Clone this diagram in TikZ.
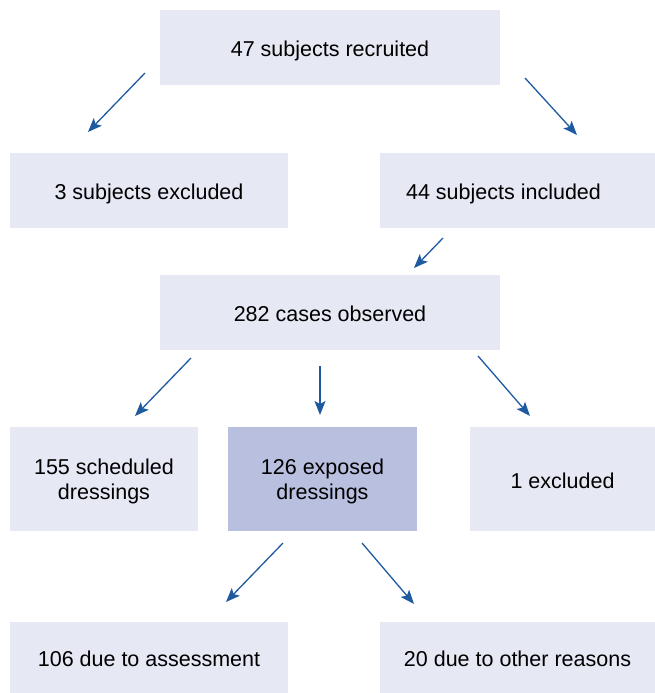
\documentclass[tikz,border=0pt]{standalone}
\usepackage{fontspec}
\setmainfont{Liberation Sans}
\usetikzlibrary{arrows.meta}
\definecolor{boxlight}{HTML}{E6E8F4}
\definecolor{boxdark}{HTML}{B8BFDF}
\definecolor{arrowblue}{HTML}{1F5AA0}
\begin{document}
\begin{tikzpicture}[x=1pt,y=-1pt,
  box/.style={fill=boxlight,draw=none,inner sep=0pt,align=center,text depth=0pt,font=\fontsize{21.5}{25}\selectfont},
  oneline/.style={text height=18pt},
  darkbox/.style={box,fill=boxdark},
  flow/.style={draw=arrowblue,line width=1.3pt,-{Stealth[length=14pt,width=11pt,inset=3pt]}}]
\useasboundingbox (0,0) rectangle (655,693);
\node[box,oneline,minimum width=340pt,minimum height=75pt] (rec) at (330,47.5) {47 subjects recruited};
\node[box,oneline,minimum width=278pt,minimum height=75pt] (exc) at (149,190.5) {3 subjects excluded};
\node[box,oneline,minimum width=275pt,minimum height=75pt] (inc) at (517.5,190.5) {44 subjects included\hspace{28pt}};
\node[box,oneline,minimum width=340pt,minimum height=75pt] (obs) at (330,312.5) {282 cases observed};
\node[box,minimum width=188pt,minimum height=104pt] (sch) at (104,479) {155 scheduled\\dressings};
\node[darkbox,minimum width=189pt,minimum height=104pt] (exp) at (322.5,479) {126 exposed\\dressings};
\node[box,oneline,minimum width=185pt,minimum height=104pt] (one) at (562.5,479) {1 excluded};
\node[box,oneline,minimum width=278pt,minimum height=71pt] (ass) at (149,657.5) {106 due to assessment};
\node[box,oneline,minimum width=275pt,minimum height=71pt] (oth) at (517.5,657.5) {20 due to other reasons};
\coordinate (a1s) at (145,73);  \coordinate (a1e) at (88,132);
\coordinate (a2s) at (525,78);  \coordinate (a2e) at (577,135);
\coordinate (a3s) at (443,238); \coordinate (a3e) at (414,268);
\coordinate (a4s) at (191,358); \coordinate (a4e) at (135,416);
\coordinate (a5s) at (320,366); \coordinate (a5e) at (320,415);
\coordinate (a6s) at (478,356); \coordinate (a6e) at (530,416);
\coordinate (a7s) at (283,543); \coordinate (a7e) at (226,602);
\coordinate (a8s) at (362,543); \coordinate (a8e) at (414,604);
\foreach \i in {1,...,8} \draw[flow] (a\i s) -- (a\i e);
\end{tikzpicture}
\end{document}
